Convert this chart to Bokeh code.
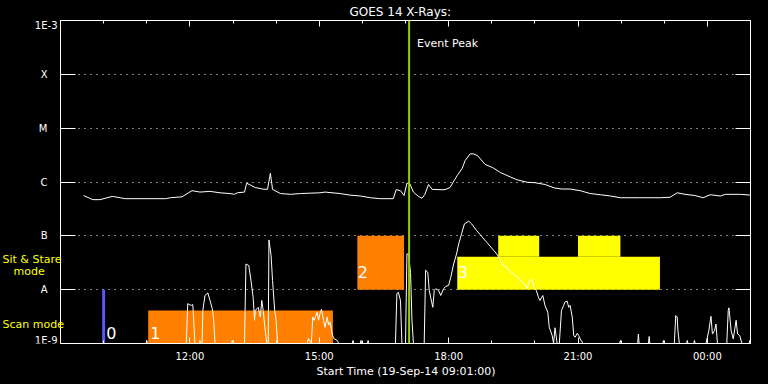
import pandas as pd
from bokeh.plotting import figure
from bokeh.models import (ColumnDataSource, FixedTicker, LogAxis, DatetimeAxis,
                          DatetimeTickFormatter, Span, Label, Range1d, Grid, Title,
                          GlobalInlineStyleSheet)
from bokeh.embed import file_html
from bokeh.resources import INLINE

START_DAY = "2014-09-19"

# GOES 1-8 A channel (upper curve)
long_time = ["09:32", "09:45", "09:55", "10:12", "10:23", "10:30", "11:26", "11:33", "11:49", "12:03",
             "12:14", "12:28", "12:42", "12:56", "13:02", "13:06", "13:16", "13:19", "13:31", "13:41",
             "13:48", "13:52", "13:55", "14:06", "14:20", "14:34", "14:47", "15:01", "15:08", "15:29",
             "15:43", "15:57", "16:11", "16:25", "16:43", "16:47", "16:53", "16:58", "17:02", "17:06",
             "17:11", "17:18", "17:23", "17:27", "17:32", "17:37", "17:48", "17:55", "18:02", "18:06",
             "18:12", "18:19", "18:23", "18:30", "18:34", "18:40", "18:51", "19:01", "19:12", "19:26",
             "19:35", "19:49", "20:00", "20:14", "20:28", "20:38", "20:49", "21:03", "21:17", "21:31",
             "21:45", "21:59", "22:26", "22:54", "23:08", "23:18", "23:29", "23:43", "23:54", "00:04",
             "00:18", "00:25", "00:46", "01:00"]
long_flux = [5.6e-7, 4.7e-7, 4.7e-7, 5.4e-7, 5.1e-7, 4.9e-7, 4.9e-7, 5.1e-7, 5.3e-7, 6.9e-7,
             6.5e-7, 6.7e-7, 6.3e-7, 6.1e-7, 5.9e-7, 6.3e-7, 6.5e-7, 9.5e-7, 7.9e-7, 7.4e-7,
             7.3e-7, 1.46e-6, 7.3e-7, 6.1e-7, 5.9e-7, 6.1e-7, 6.2e-7, 6.3e-7, 6.5e-7, 6.1e-7,
             5.7e-7, 5.5e-7, 5.1e-7, 4.9e-7, 4.9e-7, 7.2e-7, 6.9e-7, 5.6e-7, 9.5e-7, 9.3e-7,
             6.5e-7, 5.4e-7, 5.0e-7, 5.9e-7, 9.0e-7, 7.3e-7, 7.2e-7, 7.2e-7, 7.9e-7, 9.8e-7,
             1.32e-6, 1.81e-6, 2.51e-6, 3.34e-6, 3.34e-6, 3.11e-6, 2.11e-6, 1.86e-6, 1.50e-6, 1.24e-6,
             1.10e-6, 9.9e-7, 9.7e-7, 9.0e-7, 7.7e-7, 7.4e-7, 7.4e-7, 6.9e-7, 6.1e-7, 5.8e-7,
             5.5e-7, 5.1e-7, 5.1e-7, 5.1e-7, 5.2e-7, 6.3e-7, 5.9e-7, 5.6e-7, 5.1e-7, 5.8e-7,
             5.5e-7, 5.9e-7, 5.9e-7, 5.7e-7]

# GOES 0.5-4 A channel (lower curve)
short_time = [
    "09:32", "10:59", "11:00", "11:01",
    "11:55", "11:57", "11:59", "12:02", "12:04", "12:05", "12:06", "12:07",
    "12:13", "12:14", "12:15",
    "12:17", "12:18", "12:21", "12:25", "12:28", "12:31", "12:33", "12:35",
    "12:58", "12:59", "13:00",
    "13:16", "13:18", "13:22", "13:25", "13:28", "13:30", "13:31", "13:33", "13:35", "13:38", "13:40", "13:42", "13:44", "13:47",
    "13:49", "13:50", "13:53", "13:55", "13:58", "14:00", "14:02",
    "14:43", "14:45", "14:49", "14:51", "14:53", "14:57", "14:59", "15:01", "15:03", "15:06", "15:08", "15:11", "15:13", "15:15", "15:18", "15:20", "15:25", "15:27",
    "15:46", "15:47", "15:48", "15:57", "15:58", "15:59", "16:07", "16:08", "16:09",
    "16:46", "16:48", "16:50", "16:53", "16:55",
    "17:00", "17:02", "17:04", "17:07", "17:09", "17:11",
    "17:26", "17:28", "17:31", "17:33", "17:35", "17:38", "17:40", "17:42", "17:46", "17:49", "17:53", "17:56", "18:00", "18:03",
    "18:07", "18:11", "18:14", "18:18", "18:22", "18:28", "18:32", "18:39", "18:53", "19:03", "19:07", "19:10", "19:16", "19:21",
    "19:26", "19:33", "19:37", "19:42", "19:47", "19:49", "19:53", "19:56", "19:59", "20:02", "20:05", "20:07", "20:11", "20:14",
    "20:18", "20:20", "20:24", "20:26", "20:28", "20:31",
    "20:34", "20:37", "20:40", "20:42", "20:45", "20:47", "20:49", "20:52", "20:54", "20:56", "20:59", "21:01", "21:03", "21:07",
    "21:58", "21:59", "22:00", "22:23", "22:24", "22:25", "22:38", "22:39", "22:40", "22:58", "22:59", "23:00",
    "23:14", "23:16", "23:18", "23:19", "23:21", "23:31", "23:32", "23:33", "23:41", "23:42", "23:43",
    "23:58", "00:00", "00:02", "00:05", "00:07", "00:10", "00:12", "00:14",
    "00:27", "00:29", "00:30", "00:33", "00:36", "00:40", "00:42", "00:45", "00:48",
    "00:58", "00:59", "01:00",
]
short_flux = [
    1e-9, 1e-9, 1.14e-9, 1e-9,
    1e-9, 5.5e-9, 5.3e-9, 5.1e-9, 5.3e-9, 3.3e-9, 1.74e-9, 1e-9,
    1e-9, 1.14e-9, 1e-9,
    1e-9, 4.1e-9, 7.8e-9, 8.7e-9, 6.3e-9, 4.5e-9, 2.9e-9, 1e-9,
    1e-9, 1.14e-9, 1e-9,
    1e-9, 3.0e-8, 2.8e-8, 1.48e-8, 7.2e-9, 2.7e-9, 4.1e-9, 4.4e-9, 4.7e-9, 3.1e-9, 6.3e-9, 4.1e-9, 2.2e-9, 1e-9,
    1e-9, 8.4e-8, 4.3e-8, 1.48e-8, 4.1e-9, 2.7e-9, 1e-9,
    1e-9, 1.24e-9, 1e-9, 3.1e-9, 2.7e-9, 3.8e-9, 2.7e-9, 3.6e-9, 4.3e-9, 2.7e-9, 2.0e-9, 3.1e-9, 2.2e-9, 2.5e-9, 1.5e-9, 1.24e-9, 1.14e-9, 1e-9,
    1e-9, 1.14e-9, 1e-9, 1e-9, 1.14e-9, 1e-9, 1e-9, 1.14e-9, 1e-9,
    1e-9, 8.4e-9, 9.0e-9, 6.3e-9, 1e-9,
    1e-9, 4.6e-8, 4.6e-8, 2.1e-8, 2.7e-9, 1e-9,
    1e-9, 2.3e-8, 2.1e-8, 9.7e-9, 7.2e-9, 4.7e-9, 9.7e-9, 1.04e-8, 9.7e-9, 7.8e-9, 1.04e-8, 1.15e-8, 1.2e-8, 1.7e-8,
    3.0e-8, 4.6e-8, 7.1e-8, 1.09e-7, 1.67e-7, 1.87e-7, 1.67e-7, 1.25e-7, 7.6e-8, 5.3e-8, 4.6e-8, 4.0e-8, 2.8e-8, 2.6e-8,
    2.1e-8, 1.83e-8, 1.7e-8, 1.38e-8, 1.2e-8, 1.04e-8, 1.52e-8, 1.52e-8, 1.11e-8, 9.7e-9, 7.2e-9, 6.3e-9, 7.8e-9, 5.1e-9,
    3.8e-9, 2.0e-9, 1.41e-9, 1e-9, 1.96e-9, 1e-9,
    1e-9, 4.1e-9, 5.1e-9, 5.9e-9, 6.1e-9, 4.7e-9, 5.1e-9, 3.1e-9, 1.41e-9, 1.31e-9, 1.55e-9, 1.41e-9, 1.22e-9, 1e-9,
    1e-9, 1.14e-9, 1e-9, 1e-9, 1.5e-9, 1e-9, 1e-9, 1.35e-9, 1e-9, 1e-9, 1.14e-9, 1e-9,
    1e-9, 3.3e-9, 3.1e-9, 1.74e-9, 1e-9, 1e-9, 1.14e-9, 1e-9, 1e-9, 1.14e-9, 1e-9,
    1e-9, 1.31e-9, 1.74e-9, 3.2e-9, 1.5e-9, 1.74e-9, 2.3e-9, 1e-9,
    1e-9, 4.1e-9, 4.6e-9, 1.74e-9, 1.22e-9, 2.7e-9, 1.5e-9, 1.41e-9, 1e-9,
    1e-9, 1.14e-9, 1e-9,
]

# Observing-mode intervals
block_start = ["09:58", "11:02", "15:53", "18:12", "19:09", "21:00"]
block_end = ["10:02", "15:19", "16:58", "22:54", "20:06", "21:59"]
block_low = [1e-9, 1e-9, 1e-8, 1e-8, 4.1e-8, 4.1e-8]
block_high = [1e-8, 4.1e-9, 1e-7, 4.1e-8, 1e-7, 1e-7]
block_kind = ["other", "scan", "scan", "stare", "stare", "stare"]
block_tag = ["0", "1", "2", "3", "", ""]

event_peak = "17:05"
x_start, x_end = "09:00", "01:00"
flux_levels = [1e-9, 1e-8, 1e-7, 1e-6, 1e-5, 1e-4, 1e-3]
level_names = ["1E-9", "A", "B", "C", "M", "X", "1E-3"]
major_hours = ["12:00", "15:00", "18:00", "21:00", "00:00"]
minor_hours = ["09:00", "10:00", "11:00", "12:00", "13:00", "14:00", "15:00", "16:00", "17:00",
               "18:00", "19:00", "20:00", "21:00", "22:00", "23:00", "00:00", "01:00"]
mode_captions = ["Sit & Stare", "mode", "Scan mode"]
x_title = "Start Time (19-Sep-14 09:01:00)"


def ms(hm):
    ts = pd.Timestamp(f"{START_DAY} {hm}")
    if ts.hour < 6:
        ts += pd.Timedelta(days=1)
    return ts.value / 1e6


KIND_COLOR = {"other": "#5a5aff", "scan": "#ff8000", "stare": "#ffff00"}
FONT = "DejaVu Sans"

# layout: the frame spans the whole canvas width up to the right axis, the data
# window (09:00 .. 01:00) occupies its right-hand 690 px, the left 60 px hold labels
PLOT_W, LEFT_PAD = 690, 60
t0, t1 = ms(x_start), ms(x_end)
range_start = t0 - (t1 - t0) * LEFT_PAD / PLOT_W

p = figure(frame_width=PLOT_W + LEFT_PAD, frame_height=323, x_axis_type="datetime",
           y_axis_type="log", y_axis_location=None,
           x_range=Range1d(range_start, t1), y_range=Range1d(1e-9, 1e-3),
           output_backend="svg", toolbar_location=None,
           min_border_left=0, min_border_right=18, min_border_top=20, min_border_bottom=41,
           background_fill_color="black", border_fill_color="black", outline_line_color=None)
p.stylesheets = [GlobalInlineStyleSheet(css="html, body { background: #000; }")]

p.title.text = "GOES 14 X-Rays:"
p.title.align = "left"
p.title.offset = 349
p.title.text_color = "white"
p.title.text_font = FONT
p.title.text_font_size = "12px"
p.title.text_font_style = "normal"
p.title.standoff = 3

fmt = DatetimeTickFormatter(hours="%H:%M", hourmin="%H:%M", days="%H:%M", minutes="%H:%M")


def x_ticker():
    return FixedTicker(ticks=[ms(h) for h in major_hours], minor_ticks=[ms(h) for h in minor_hours])


# bottom axis
p.xaxis.ticker = x_ticker()
p.xaxis.formatter = fmt
for ax in p.xaxis:
    ax.bounds = (t0, t1)
    ax.axis_line_color = "white"
    ax.major_tick_line_color = "white"
    ax.minor_tick_line_color = "white"
    ax.major_tick_in = 6
    ax.major_tick_out = 0
    ax.minor_tick_in = 3
    ax.minor_tick_out = 0
    ax.major_label_text_color = "white"
    ax.major_label_text_font = FONT
    ax.major_label_text_font_size = "10px"
    ax.major_label_standoff = 7

p.add_layout(Title(text=x_title, align="left", offset=316, standoff=-4, text_color="white",
                   text_font=FONT, text_font_size="11px", text_font_style="normal"), "below")

top = DatetimeAxis(ticker=x_ticker(), formatter=fmt, bounds=(t0, t1),
                   axis_line_color="white", major_tick_line_color="white",
                   minor_tick_line_color="white", major_tick_in=6, major_tick_out=0,
                   minor_tick_in=3, minor_tick_out=0, major_label_text_font_size="0px",
                   major_label_text_alpha=0, major_label_standoff=0)
p.add_layout(top, "above")

# left axis drawn at 09:00, inside the widened frame
left = LogAxis(ticker=FixedTicker(ticks=flux_levels, minor_ticks=[]), fixed_location=t0,
               axis_line_color="white", major_tick_line_color="white", minor_tick_line_color=None,
               major_tick_in=15, major_tick_out=0, major_label_text_font_size="0px",
               major_label_text_alpha=0, major_label_standoff=0,
               major_label_overrides={v: "" for v in flux_levels})
p.add_layout(left, "left")
right = LogAxis(ticker=FixedTicker(ticks=flux_levels, minor_ticks=[]), axis_line_color="white",
                major_tick_line_color="white", minor_tick_line_color=None, major_tick_in=15,
                major_tick_out=0, major_label_text_font_size="0px", major_label_text_alpha=0,
                major_label_standoff=0, major_label_overrides={v: "" for v in flux_levels})
p.add_layout(right, "right")

p.xgrid.grid_line_color = None
p.ygrid.ticker = FixedTicker(ticks=flux_levels[1:-1], minor_ticks=[])
p.ygrid.grid_line_color = "white"
p.ygrid.grid_line_dash = "1 5"
p.ygrid.grid_line_width = 1
if "cross_bounds" in Grid.properties():
    p.ygrid.cross_bounds = (t0, t1)
else:
    p.quad(left=range_start, right=t0, bottom=1e-9, top=1e-3, fill_color="black", line_color=None)

blocks = ColumnDataSource(dict(
    left=[ms(t) for t in block_start], right=[ms(t) for t in block_end],
    bottom=block_low, top=block_high, color=[KIND_COLOR[k] for k in block_kind]))
p.quad(left="left", right="right", bottom="bottom", top="top", fill_color="color",
       line_color=None, source=blocks)

p.line([ms(t) for t in short_time], short_flux, line_color="white", line_width=1)
p.line([ms(t) for t in long_time], long_flux, line_color="white", line_width=1)

p.add_layout(Span(location=ms(event_peak), dimension="height", line_color="#99cc00", line_width=2))
p.add_layout(Label(x=ms(event_peak), x_offset=8, y=3.7e-4, text="Event Peak", text_color="white",
                   text_font=FONT, text_font_size="11px", text_baseline="middle"))

# block tags
tag_xoff = [4, 2, 0.5, 0.5]
tag_yoff = [11, 11, 18, 18]
for i, tag in enumerate(block_tag):
    if tag:
        p.add_layout(Label(x=ms(block_start[i]), y=block_low[i], x_offset=tag_xoff[i], y_offset=tag_yoff[i],
                           text=tag, text_color="white", text_font=FONT, text_font_size="16px",
                           text_baseline="alphabetic"))

# y-axis texts: decade labels and GOES class letters
for v, n in zip(flux_levels, level_names):
    if n.startswith("1E"):
        sy = 318 if v == flux_levels[-1] else 3.5
        p.add_layout(Label(x=57, x_units="screen", y=sy, y_units="screen", text=n,
                           text_align="right", text_baseline="middle", text_color="white",
                           text_font=FONT, text_font_size="10px"))
    else:
        p.add_layout(Label(x=47, x_units="screen", y=v, text=n, text_align="right",
                           text_baseline="middle", text_color="white", text_font=FONT,
                           text_font_size="10px"))

# mode captions
for txt, sx, sy in zip(mode_captions, [2, 13, 2], [84, 72, 19.5]):
    p.add_layout(Label(x=sx, x_units="screen", y=sy, y_units="screen", text=txt, text_color="#ffff00",
                       text_font=FONT, text_font_size="11px", text_baseline="middle"))

open("out.html", "w").write(file_html(p, INLINE))
